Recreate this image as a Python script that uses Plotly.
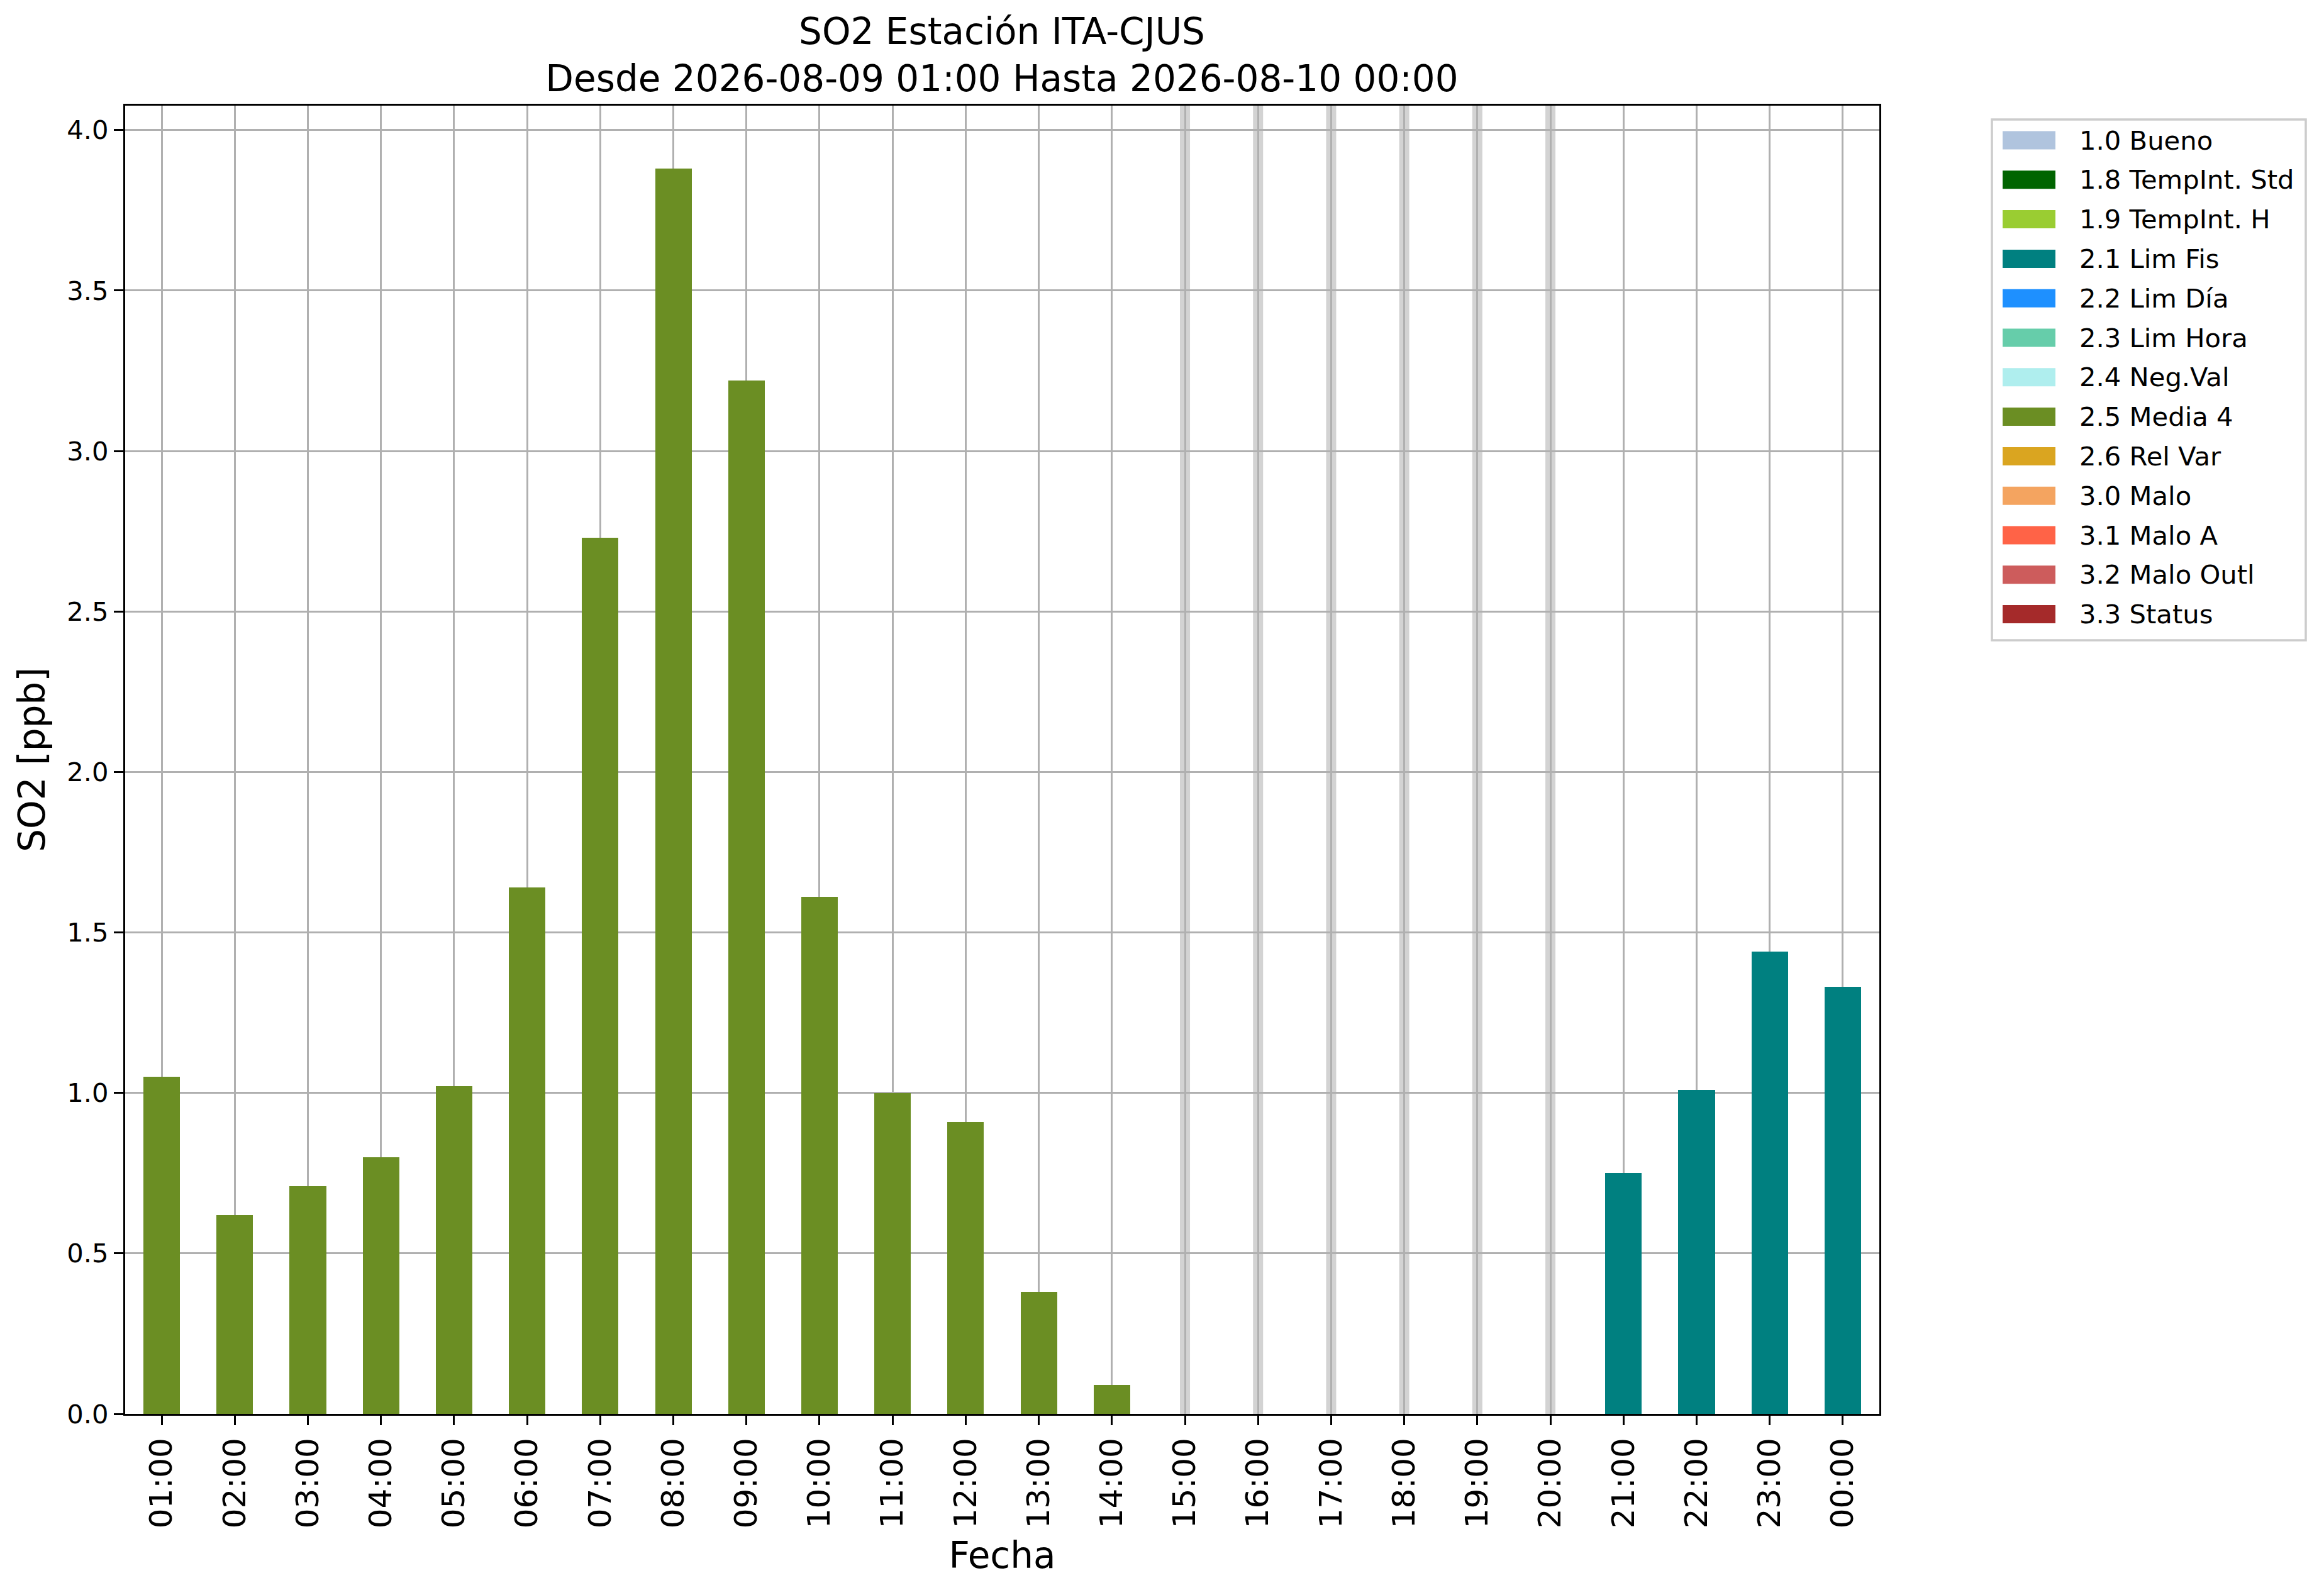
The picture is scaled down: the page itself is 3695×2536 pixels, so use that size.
import plotly.graph_objects as go

# Hourly SO2 readings (ppb) and the quality flag of each hour
hours = ["01:00", "02:00", "03:00", "04:00", "05:00", "06:00", "07:00", "08:00",
         "09:00", "10:00", "11:00", "12:00", "13:00", "14:00", "15:00", "16:00",
         "17:00", "18:00", "19:00", "20:00", "21:00", "22:00", "23:00", "00:00"]
so2_ppb = [1.05, 0.62, 0.71, 0.80, 1.02, 1.64, 2.73, 3.88,
           3.22, 1.61, 1.00, 0.91, 0.38, 0.09, None, None,
           None, None, None, None, 0.75, 1.01, 1.44, 1.33]
hour_flags = ["2.5 Media 4", "2.5 Media 4", "2.5 Media 4", "2.5 Media 4",
              "2.5 Media 4", "2.5 Media 4", "2.5 Media 4", "2.5 Media 4",
              "2.5 Media 4", "2.5 Media 4", "2.5 Media 4", "2.5 Media 4",
              "2.5 Media 4", "2.5 Media 4", None, None,
              None, None, None, None,
              "2.1 Lim Fis", "2.1 Lim Fis", "2.1 Lim Fis", "2.1 Lim Fis"]

# Quality flag legend
flag_labels = ["1.0 Bueno", "1.8 TempInt. Std", "1.9 TempInt. H", "2.1 Lim Fis",
               "2.2 Lim Día", "2.3 Lim Hora", "2.4 Neg.Val", "2.5 Media 4",
               "2.6 Rel Var", "3.0 Malo", "3.1 Malo A", "3.2 Malo Outl", "3.3 Status"]
flag_colors = ["#B0C4DE", "#006400", "#9ACD32", "#008080",
               "#1E90FF", "#66CDAA", "#AFEEEE", "#6B8E23",
               "#DAA520", "#F4A460", "#FF6347", "#CD5C5C", "#A52A2A"]

color_map = dict(zip(flag_labels, flag_colors))
bar_colors = [color_map.get(f, "rgba(0,0,0,0)") for f in hour_flags]

# the page body adds an 8px margin, so work in window pixels and shift
OFF = 8
W, H = 3695 - 2 * OFF, 2536 - 2 * OFF
L, R, T, B = 199 - OFF, 2988 - OFF, 168 - OFF, 2248 - OFF
FONT = "DejaVu Sans"


def px_x(p):
    return (p - OFF - L) / (R - L)


def px_y(p):
    return (B - (p - OFF)) / (B - T)


fig = go.Figure()
fig.add_trace(go.Bar(x=hours, y=so2_ppb, width=0.5,
                     marker=dict(color=bar_colors, line=dict(width=0)),
                     showlegend=False))

# light bands where the hour has no data
for i, v in enumerate(so2_ppb):
    if v is None:
        fig.add_shape(type="line", xref="x", yref="paper", x0=i, x1=i, y0=0, y1=1,
                      line=dict(color="#d3d3d3", width=16), layer="below")

# legend drawn by hand so the swatches keep matplotlib's wide patches
fig.add_shape(type="rect", xref="paper", yref="paper",
              x0=px_x(3167), x1=px_x(3666), y0=px_y(1018), y1=px_y(190),
              line=dict(color="#cccccc", width=3.5), fillcolor="rgba(255,255,255,0.8)")
for k, (lab, col) in enumerate(zip(flag_labels, flag_colors)):
    cy = 223 + k * 62.8
    fig.add_shape(type="rect", xref="paper", yref="paper",
                  x0=px_x(3184), x1=px_x(3268), y0=px_y(cy + 14.5), y1=px_y(cy - 14.5),
                  line=dict(width=0), fillcolor=col)
    fig.add_annotation(xref="paper", yref="paper", x=px_x(3304), y=px_y(cy),
                       text=lab, showarrow=False, xanchor="left", yanchor="middle",
                       font=dict(family=FONT, size=41.7, color="black"))

fig.update_layout(
    width=W, height=H,
    margin=dict(l=L, r=W - R, t=T, b=H - B),
    paper_bgcolor="white", plot_bgcolor="white",
    font=dict(family=FONT, color="black"),
    title=dict(text="SO2 Estación ITA-CJUS<br>Desde 2026-08-09 01:00 Hasta 2026-08-10 00:00",
               x=px_x(1593), xref="paper", xanchor="center",
               y=1 - (70 - OFF) / H, yanchor="middle",
               font=dict(family=FONT, size=58, color="black")),
    bargap=0,
)

fig.update_xaxes(
    type="category", range=[-0.5, 23.5], tickangle=-90,
    tickfont=dict(size=50, family=FONT), ticks="outside", ticklen=15, tickwidth=3.3,
    tickcolor="black", showline=True, linecolor="black", linewidth=3.3, mirror=True,
    showgrid=True, gridcolor="#b0b0b0", gridwidth=3.3, zeroline=False,
    title=dict(text="Fecha", font=dict(size=58, family=FONT), standoff=24),
)
fig.update_yaxes(
    range=[0, 4.076], tick0=0, dtick=0.5, tickformat=".1f",
    tickfont=dict(size=41.7, family=FONT), ticks="outside", ticklen=15, tickwidth=3.3,
    tickcolor="black", showline=True, linecolor="black", linewidth=3.3, mirror=True,
    showgrid=True, gridcolor="#b0b0b0", gridwidth=3.3, zeroline=False,
    title=dict(text="SO2 [ppb]", font=dict(size=58, family=FONT), standoff=16),
)

fig.write_html("out.html")
